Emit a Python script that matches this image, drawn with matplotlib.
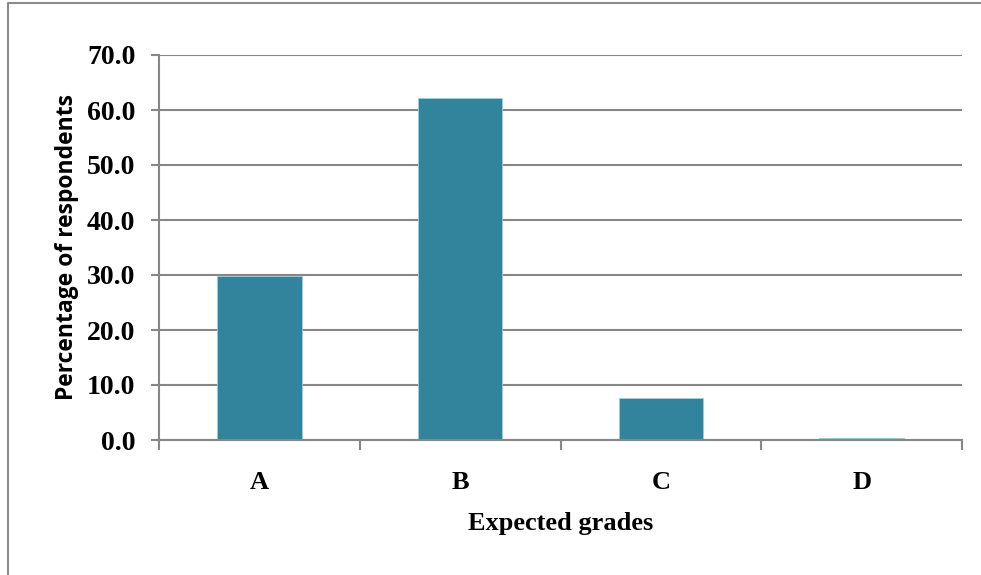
import matplotlib.pyplot as plt
from matplotlib.lines import Line2D

grades = ["A", "B", "C", "D"]
percentages = [29.8, 62.2, 7.6, 0.4]
y_ticks = [0, 10, 20, 30, 40, 50, 60, 70]

bar_color = "#31849b"
grid_color = "#878787"
serif = "Liberation Serif"

fig = plt.figure(figsize=(9.81, 5.75), dpi=100)
ax = fig.add_axes([159 / 981, 1 - 440 / 575, 803 / 981, 385 / 575])

x = range(len(grades))
ax.bar(x, percentages, width=0.42, color=bar_color, edgecolor="#9fcfdc",
       linewidth=0.6, zorder=3)

ax.set_xlim(-0.5, len(grades) - 0.5)
ax.set_ylim(0, 70)
ax.set_yticks(y_ticks)
ax.set_yticklabels([f"{v:.1f}" for v in y_ticks], fontfamily=serif,
                   fontweight="bold", fontsize=20)
ax.set_xticks(list(x))
ax.set_xticklabels(grades, fontfamily=serif, fontweight="bold", fontsize=19)
ax.tick_params(axis="x", length=0, pad=22)
ax.tick_params(axis="y", length=6, color=grid_color, width=1.5, pad=11)

# minor ticks mark the category boundaries on the x axis
ax.set_xticks([i - 0.5 for i in range(len(grades) + 1)], minor=True)
ax.tick_params(axis="x", which="minor", length=7, color=grid_color, width=1.5)

ax.yaxis.grid(True, color=grid_color, linewidth=1.5, zorder=0)
for side in ["top", "right"]:
    ax.spines[side].set_visible(False)
for side in ["left", "bottom"]:
    ax.spines[side].set_color(grid_color)
    ax.spines[side].set_linewidth(1.5)
    ax.spines[side].set_zorder(4)

ax.set_xlabel("Expected grades", fontfamily=serif, fontweight="bold",
              fontsize=19, labelpad=13)
ax.set_ylabel("Percentage of respondents", fontfamily="Open Sans",
              fontweight="bold", fontsize=16.5, labelpad=6)

# chart area frame
fig.add_artist(Line2D([8 / 981, 8 / 981, 1.0], [0.0, 1 - 3 / 575, 1 - 3 / 575],
                      transform=fig.transFigure, color="#8c8c8c", linewidth=1.5))

fig.savefig("out.png", dpi=100)
